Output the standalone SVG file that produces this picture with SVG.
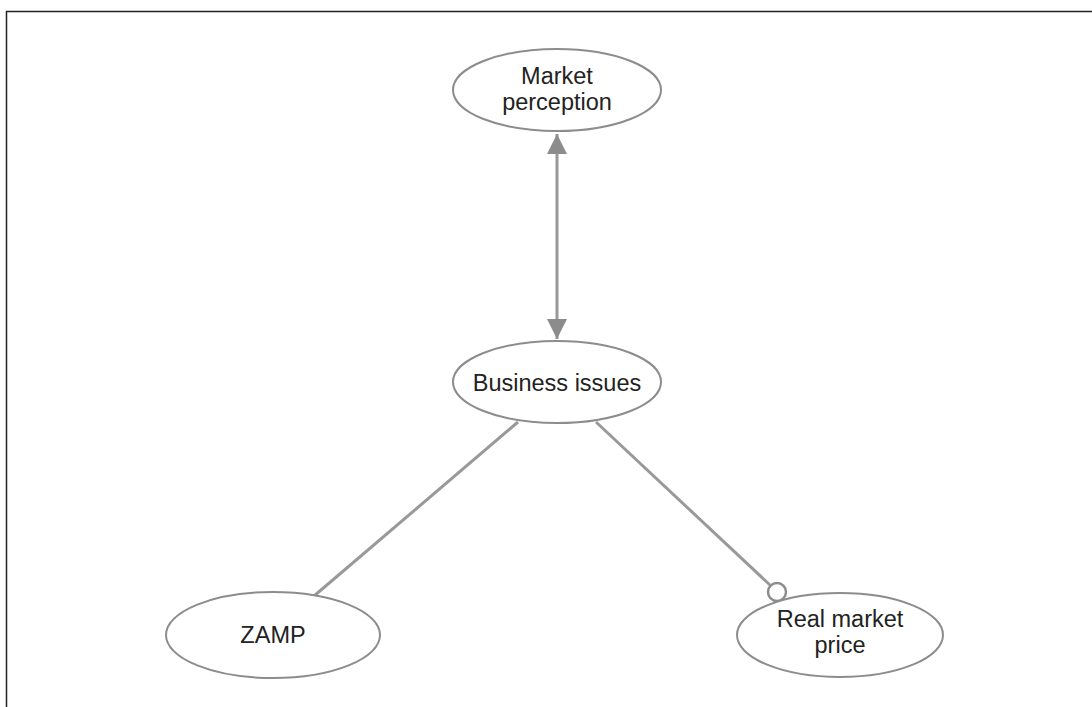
<svg xmlns="http://www.w3.org/2000/svg" width="1092" height="707" viewBox="0 0 1092 707">
  <style>
    .node ellipse { fill: #ffffff; stroke: #8c8c8c; stroke-width: 2; }
    .node text { font-family: "Liberation Sans", Arial, sans-serif; font-size: 23.5px; fill: #222222; text-anchor: middle; }
    .edge { stroke: #999999; stroke-width: 3; fill: none; }
    .frame { stroke: #222222; stroke-width: 1.5; fill: none; }
  </style>
  <defs>
    <marker id="arrow" viewBox="0 0 10 10" refX="10" refY="5" markerUnits="userSpaceOnUse" markerWidth="21" markerHeight="20" orient="auto-start-reverse">
      <path d="M0,0 L10,5 L0,10 z" fill="#8c8c8c"/>
    </marker>
  </defs>

  <!-- page frame -->
  <path class="frame" d="M6.5,707 V11.5 H1092"/>

  <g id="connectors">
    <line class="edge" x1="557" y1="134" x2="557" y2="339" marker-start="url(#arrow)" marker-end="url(#arrow)"/>
    <line class="edge" x1="518" y1="422" x2="314" y2="596"/>
    <line class="edge" x1="596" y1="422" x2="770" y2="585"/>
    <circle cx="777" cy="592" r="9" fill="#ffffff" stroke="#8c8c8c" stroke-width="2.5"/>
  </g>

  <g id="market-perception" class="node">
    <ellipse cx="557" cy="90" rx="104" ry="41"/>
    <text x="557" y="84">Market</text>
    <text x="557" y="110">perception</text>
  </g>

  <g id="business-issues" class="node">
    <ellipse cx="557" cy="382" rx="104" ry="41"/>
    <text x="557" y="391">Business issues</text>
  </g>

  <g id="zamp" class="node">
    <ellipse cx="273" cy="635" rx="107" ry="43"/>
    <text x="273" y="643">ZAMP</text>
  </g>

  <g id="real-market-price" class="node">
    <ellipse cx="840" cy="635" rx="103" ry="42"/>
    <text x="840" y="627">Real market</text>
    <text x="840" y="653">price</text>
  </g>
</svg>
